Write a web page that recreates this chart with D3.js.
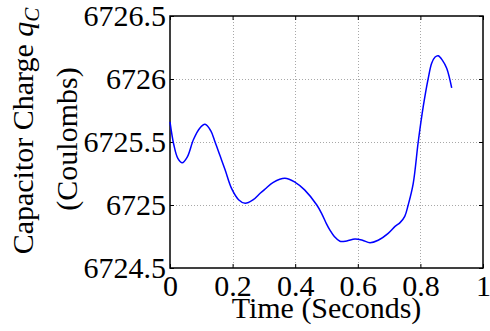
<!DOCTYPE html>
<html>
<head>
<meta charset="utf-8">
<script src="https://cdn.jsdelivr.net/npm/d3@7"></script>
<style>
  html, body { margin: 0; padding: 0; background: #fff; }
  svg { display: block; }
</style>
</head>
<body>
<div id="chart"></div>
<script>
// values
const timeValues = [0, 0.012, 0.025, 0.039, 0.055, 0.075, 0.095, 0.112, 0.13, 0.144, 0.16, 0.176, 0.197,
  0.22, 0.24, 0.265, 0.288, 0.304, 0.33, 0.367, 0.4, 0.43, 0.469, 0.485, 0.5, 0.511, 0.525, 0.543, 0.565,
  0.591, 0.615, 0.639, 0.665, 0.697, 0.719, 0.735, 0.75, 0.761, 0.777, 0.793, 0.809, 0.825, 0.836, 0.847,
  0.857, 0.87, 0.884, 0.9];
const chargeValues = [6725.66, 6725.48, 6725.37, 6725.335, 6725.38, 6725.52, 6725.61, 6725.64, 6725.59,
  6725.50, 6725.39, 6725.28, 6725.13, 6725.04, 6725.013, 6725.04, 6725.093, 6725.127, 6725.18, 6725.212,
  6725.18, 6725.12, 6725.0, 6724.93, 6724.85, 6724.80, 6724.75, 6724.712, 6724.715, 6724.73, 6724.72,
  6724.70, 6724.72, 6724.775, 6724.83, 6724.86, 6724.91, 6725.0, 6725.17, 6725.50, 6725.78, 6726.005,
  6726.125, 6726.175, 6726.185, 6726.15, 6726.085, 6725.93];
const xTicks = [0, 0.2, 0.4, 0.6, 0.8, 1];
const yTicks = [6724.5, 6725, 6725.5, 6726, 6726.5];

const width = 490, height = 331;
const margin = { top: 16, right: 7, bottom: 63, left: 170 };
const fontSize = 30;
const serif = 'Liberation Serif';

const svg = d3.select('#chart').append('svg')
  .attr('width', width)
  .attr('height', height)
  .attr('font-family', serif);

const x = d3.scaleLinear().domain([0, 1]).range([margin.left, width - margin.right]);
const y = d3.scaleLinear().domain([6724.5, 6726.5]).range([height - margin.bottom, margin.top]);

const x0 = x.range()[0], x1 = x.range()[1];
const y0 = y.range()[0], y1 = y.range()[1];

// grid
const grid = svg.append('g')
  .attr('stroke', '#a8a8a8')
  .attr('stroke-width', 1)
  .attr('stroke-dasharray', '1,2');
grid.selectAll('.gx')
  .data(xTicks.slice(1, -1))
  .join('line')
  .attr('x1', d => Math.round(x(d)) + 0.5).attr('x2', d => Math.round(x(d)) + 0.5)
  .attr('y1', y1).attr('y2', y0);
grid.selectAll('.gy')
  .data(yTicks.slice(1, -1))
  .join('line')
  .attr('y1', d => Math.round(y(d)) + 0.5).attr('y2', d => Math.round(y(d)) + 0.5)
  .attr('x1', x0).attr('x2', x1);

// axes with inward ticks (matlab style)
const tickLen = 4;
const fmt = d => String(d);
const axes = [
  svg.append('g')
    .attr('transform', `translate(0,${y0})`)
    .call(d3.axisBottom(x).tickValues(xTicks).tickSize(-tickLen).tickPadding(7).tickFormat(fmt)),
  svg.append('g')
    .attr('transform', `translate(0,${y1})`)
    .call(d3.axisTop(x).tickValues(xTicks).tickSize(-tickLen).tickFormat('')),
  svg.append('g')
    .attr('transform', `translate(${x0},0)`)
    .call(d3.axisLeft(y).tickValues(yTicks).tickSize(-tickLen).tickPadding(4).tickFormat(fmt)),
  svg.append('g')
    .attr('transform', `translate(${x1},0)`)
    .call(d3.axisRight(y).tickValues(yTicks).tickSize(-tickLen).tickFormat(''))
];
axes.forEach(g => {
  g.select('.domain').remove();
  g.attr('font-family', serif).attr('font-size', fontSize);
});

svg.selectAll('.tick line').attr('stroke', '#000').attr('stroke-width', 1);
svg.selectAll('.tick text')
  .attr('font-family', serif)
  .attr('font-size', fontSize)
  .attr('fill', '#000');

// box
svg.append('rect')
  .attr('x', x0).attr('y', y1)
  .attr('width', x1 - x0).attr('height', y0 - y1)
  .attr('fill', 'none')
  .attr('stroke', '#000')
  .attr('stroke-width', 1.5);

// curve
const pts = timeValues.map((t, i) => [t, chargeValues[i]]);
const line = d3.line()
  .x(d => x(d[0]))
  .y(d => y(d[1]))
  .curve(d3.curveCatmullRom.alpha(0.5));
svg.append('path')
  .datum(pts)
  .attr('d', line)
  .attr('fill', 'none')
  .attr('stroke', '#0000ff')
  .attr('stroke-width', 1.5);

// labels
svg.append('text')
  .attr('x', (x0 + x1) / 2)
  .attr('y', 318)
  .attr('text-anchor', 'middle')
  .attr('font-family', serif)
  .attr('font-size', fontSize)
  .text('Time (Seconds)');

const yl1 = svg.append('text')
  .attr('transform', 'translate(33,131) rotate(-90)')
  .attr('text-anchor', 'middle')
  .attr('font-family', serif)
  .attr('font-size', fontSize);
yl1.append('tspan').text('Capacitor Charge ');
yl1.append('tspan').attr('font-style', 'italic').text('q');
yl1.append('tspan').attr('font-style', 'italic').attr('font-size', 21).attr('dy', 6).text('C');

svg.append('text')
  .attr('transform', 'translate(77,139) rotate(-90)')
  .attr('text-anchor', 'middle')
  .attr('font-family', serif)
  .attr('font-size', fontSize)
  .text('(Coulombs)');
</script>
</body>
</html>
